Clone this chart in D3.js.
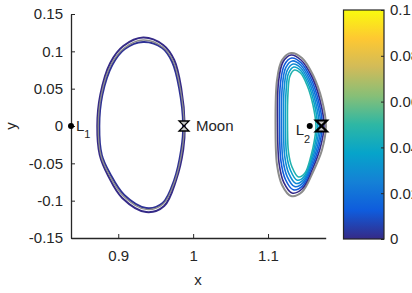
<!DOCTYPE html>
<html>
<head>
<meta charset="utf-8">
<script src="https://cdn.jsdelivr.net/npm/d3@7"></script>
<style>
  body { margin: 0; background: #fff; }
  text { font-family: "Liberation Sans", Arial, Helvetica, sans-serif; fill: #262626; }
</style>
</head>
<body>
<svg id="chart" width="412" height="293"></svg>
<script>
// axis ticks
var xTicks = [0.9, 1, 1.1];
var yTicks = [-0.15, -0.1, -0.05, 0, 0.05, 0.1, 0.15];
var cTicks = [0, 0.02, 0.04, 0.06, 0.08, 0.1];

// libration points and moon (x, y)
var L1 = [0.8369, 0];
var L2 = [1.1557, 0];
var moon = [0.9878, 0];
var l2Mark = [1.1713, 0];

// orbits around L1 / moon, reference orbit in gray
var leftOrbitA = [[0.9887,0],[0.984,0.0509],[0.9747,0.0884],[0.96,0.1085],[0.9333,0.1185],[0.9067,0.1071],[0.8893,0.0844],[0.876,0.0415],[0.872,0],[0.8753,-0.0388],[0.8867,-0.067],[0.9053,-0.0964],[0.9373,-0.1152],[0.9613,-0.1071],[0.9773,-0.0723],[0.9867,-0.0321]];
var leftOrbitRef = [[0.988,0],[0.9827,0.0509],[0.9733,0.087],[0.9593,0.1058],[0.9333,0.1152],[0.908,0.1045],[0.8907,0.083],[0.8773,0.0415],[0.8733,0],[0.8767,-0.0388],[0.888,-0.0656],[0.9067,-0.0937],[0.9373,-0.1118],[0.96,-0.1045],[0.976,-0.0723],[0.9853,-0.0321]];
var leftOrbitB = [[0.9867,0],[0.9813,0.0509],[0.972,0.0857],[0.9587,0.1045],[0.9333,0.1125],[0.9087,0.1031],[0.892,0.0817],[0.8787,0.0415],[0.8747,0],[0.878,-0.0388],[0.8893,-0.0643],[0.908,-0.0924],[0.9373,-0.1098],[0.9593,-0.1031],[0.9747,-0.0723],[0.984,-0.0321]];
var leftValues = [0, 0.002];

// orbit family around L2, reference orbit in gray
var rightOrbitRef = [[1.1773,0],[1.172,0.0348],[1.16,0.0683],[1.1453,0.0911],[1.1307,0.0978],[1.1187,0.0884],[1.112,0.0616],[1.11,0],[1.112,-0.0522],[1.1187,-0.079],[1.1307,-0.0937],[1.1453,-0.0884],[1.16,-0.0616],[1.172,-0.0321]];
var rightOrbit0 = [[1.1747,0],[1.1693,0.0348],[1.158,0.067],[1.144,0.0884],[1.1307,0.0951],[1.12,0.0857],[1.114,0.0589],[1.1127,0],[1.1147,-0.0496],[1.1213,-0.0763],[1.132,-0.0897],[1.1453,-0.0844],[1.1587,-0.0589],[1.1693,-0.0308]];
var rightOrbit1 = [[1.1726,0],[1.1674,0.0335],[1.1568,0.0646],[1.1439,0.0849],[1.1316,0.0911],[1.1219,0.082],[1.1165,0.0562],[1.1154,0],[1.1172,-0.0466],[1.1234,-0.072],[1.1337,-0.0854],[1.1461,-0.0801],[1.1584,-0.0552],[1.1678,-0.0284]];
var rightOrbit2 = [[1.1704,0],[1.1656,0.0321],[1.1556,0.0622],[1.1437,0.0814],[1.1325,0.0871],[1.1237,0.0782],[1.1191,0.0535],[1.118,0],[1.1197,-0.0437],[1.1256,-0.0677],[1.1355,-0.0811],[1.1469,-0.0758],[1.1581,-0.0514],[1.1664,-0.026]];
var rightOrbit3 = [[1.1683,0],[1.1637,0.0308],[1.1544,0.0597],[1.1436,0.078],[1.1335,0.083],[1.1256,0.0745],[1.1216,0.0509],[1.1207,0],[1.1223,-0.0407],[1.1277,-0.0635],[1.1372,-0.0769],[1.1477,-0.0715],[1.1579,-0.0477],[1.1649,-0.0235]];
var rightOrbit4 = [[1.1661,0],[1.1619,0.0294],[1.1532,0.0573],[1.1434,0.0745],[1.1344,0.079],[1.1274,0.0707],[1.1242,0.0482],[1.1233,0],[1.1248,-0.0378],[1.1299,-0.0592],[1.139,-0.0726],[1.1485,-0.0672],[1.1576,-0.0439],[1.1635,-0.0211]];
var rightOrbit5 = [[1.164,0],[1.16,0.0281],[1.152,0.0549],[1.1433,0.071],[1.1353,0.075],[1.1293,0.067],[1.1267,0.0455],[1.126,0],[1.1273,-0.0348],[1.132,-0.0549],[1.1407,-0.0683],[1.1493,-0.0629],[1.1573,-0.0402],[1.162,-0.0187]];
var rightValues = [0, 0.012, 0.02, 0.028, 0.036, 0.046];

// parula-like colour map
var parula = ["#352a87", "#0f5cdd", "#1481d6", "#06a4ca", "#2eb7a4", "#87bf77", "#d1bb59", "#fec832", "#f9fb0e"];

var svg = d3.select("#chart");
var axisColor = "#262626";
var fontSize = 15;

var x = d3.scaleLinear().domain([0.8369, 1.177]).range([71, 325.7]);
var y = d3.scaleLinear().domain([-0.15, 0.15]).range([238, 14]);
var cmap = d3.scaleLinear()
  .domain(d3.range(parula.length).map(function(i) { return 0.1 * i / (parula.length - 1); }))
  .range(parula);

var line = d3.line()
  .x(function(d) { return x(d[0]); })
  .y(function(d) { return y(d[1]); })
  .curve(d3.curveCatmullRomClosed.alpha(0.5));

//////////////////////////////////
// orbits
var plot = svg.append("g");

function drawOrbit(pts, color, w) {
  plot.append("path")
    .attr("d", line(pts))
    .attr("fill", "none")
    .attr("stroke", color)
    .attr("stroke-width", w);
}

drawOrbit(leftOrbitA, cmap(leftValues[0]), 2);
drawOrbit(leftOrbitB, cmap(leftValues[1]), 2);
drawOrbit(leftOrbitRef, "#8c8c8c", 1.3);

drawOrbit(rightOrbitRef, "#8c8c8c", 2);
[rightOrbit0, rightOrbit1, rightOrbit2, rightOrbit3, rightOrbit4, rightOrbit5].forEach(function(o, i) {
  drawOrbit(o, cmap(rightValues[i]), 1.6);
});

//////////////////////////////////
// axes
var xAxis = d3.axisBottom(x).tickValues(xTicks).tickSizeInner(-4).tickSizeOuter(0)
  .tickFormat(d3.format("~g"));
var yAxis = d3.axisLeft(y).tickValues(yTicks).tickSizeInner(-4).tickSizeOuter(0)
  .tickFormat(function(d) { return d == 0 ? "0" : d3.format("~g")(d).replace("−", "-"); });

var gx = svg.append("g").attr("transform", "translate(0,238)").call(xAxis);
var gy = svg.append("g").attr("transform", "translate(71,0)").call(yAxis);

[gx, gy].forEach(function(g) {
  g.select(".domain").attr("stroke", axisColor).attr("stroke-width", 1.3);
  g.selectAll(".tick line").attr("stroke", axisColor);
  g.selectAll(".tick text").attr("font-size", fontSize).attr("fill", axisColor)
    .attr("font-family", "Liberation Sans, Arial, sans-serif");
});
gx.selectAll(".tick text").attr("dy", "1em").attr("y", 8);
gy.selectAll(".tick text").attr("x", -8);

svg.append("text").attr("x", 198).attr("y", 285).attr("text-anchor", "middle")
  .attr("font-size", fontSize).text("x");
svg.append("text").attr("transform", "translate(16,126) rotate(-90)").attr("text-anchor", "middle")
  .attr("font-size", fontSize).text("y");

//////////////////////////////////
// points and labels
function dot(p) {
  svg.append("circle").attr("cx", x(p[0])).attr("cy", y(p[1])).attr("r", 3).attr("fill", "#000");
}
function hourglass(p, s, w) {
  var cx = x(p[0]), cy = y(p[1]);
  svg.append("path")
    .attr("d", "M" + (cx - s) + "," + (cy - s) + " L" + (cx + s) + "," + (cy - s) +
               " L" + (cx - s) + "," + (cy + s) + " L" + (cx + s) + "," + (cy + s) + " Z")
    .attr("fill", "#c8c8c8").attr("stroke", "#000").attr("stroke-width", w);
}

dot(L1);
var l1Label = svg.append("text").attr("x", x(L1[0]) + 5).attr("y", y(L1[1]) + 5).attr("font-size", fontSize);
l1Label.append("tspan").text("L");
l1Label.append("tspan").attr("dy", 7).attr("font-size", 11).text("1");

hourglass(moon, 5, 1.3);
svg.append("text").attr("x", x(moon[0]) + 12).attr("y", y(moon[1]) + 5).attr("font-size", fontSize).text("Moon");

dot(L2);
var l2Label = svg.append("text").attr("x", x(L2[0]) - 14).attr("y", y(L2[1]) + 9)
  .attr("font-size", fontSize);
l2Label.append("tspan").text("L");
l2Label.append("tspan").attr("dy", 8).attr("font-size", 11).text("2");

hourglass(l2Mark, 5.5, 2.2);

//////////////////////////////////
// colorbar
var cb = { x: 343.5, w: 40.5, top: 10, bottom: 239 };
var cy = d3.scaleLinear().domain([0, 0.1]).range([cb.bottom, cb.top]);

var grad = svg.append("defs").append("linearGradient")
  .attr("id", "parula").attr("x1", 0).attr("y1", 1).attr("x2", 0).attr("y2", 0);
grad.selectAll("stop")
  .data(parula)
.enter()
  .append("stop")
  .attr("offset", function(d, i) { return i / (parula.length - 1); })
  .attr("stop-color", function(d) { return d; });

svg.append("rect")
  .attr("x", cb.x).attr("y", cb.top)
  .attr("width", cb.w).attr("height", cb.bottom - cb.top)
  .attr("fill", "url(#parula)")
  .attr("stroke", axisColor).attr("stroke-width", 1.2);

var cAxis = d3.axisRight(cy).tickValues(cTicks).tickSizeInner(-3).tickSizeOuter(0)
  .tickFormat(d3.format("~g"));
var gc = svg.append("g").attr("transform", "translate(" + (cb.x + cb.w) + ",0)").call(cAxis);
gc.select(".domain").remove();
gc.selectAll(".tick line").attr("stroke", axisColor);
gc.selectAll(".tick text").attr("x", 6).attr("font-size", fontSize).attr("fill", axisColor)
  .attr("font-family", "Liberation Sans, Arial, sans-serif");
</script>
</body>
</html>
